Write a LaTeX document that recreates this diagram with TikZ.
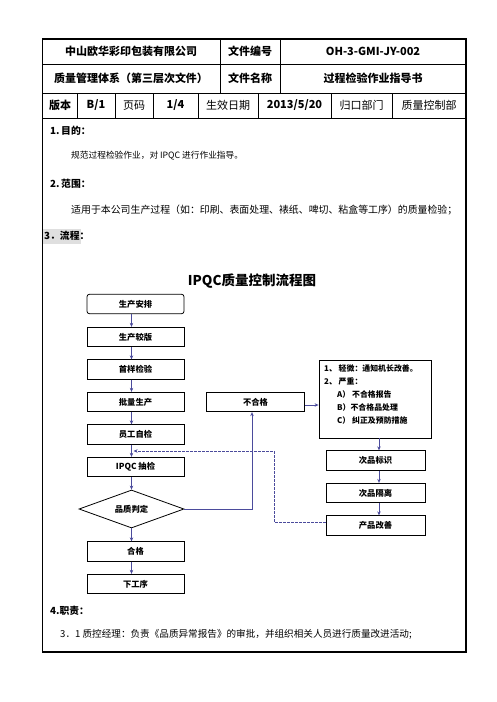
\documentclass[tikz,border=0pt]{standalone}
\usepackage{fontspec}
\setmainfont{Noto Sans CJK SC}
\usetikzlibrary{shapes.geometric,arrows.meta}
\definecolor{arrc}{HTML}{4B4B9C}
\begin{document}
\begin{tikzpicture}[x=1pt,y=-1pt,
  cell/.style={font=\fontsize{11}{13}\selectfont\bfseries,inner sep=0pt},
  cellr/.style={font=\fontsize{11}{13}\selectfont,inner sep=0pt},
  txt/.style={font=\fontsize{9.8}{12}\selectfont,anchor=west,inner sep=0pt},
  head/.style={font=\fontsize{9.8}{12}\selectfont\bfseries,anchor=west,inner sep=0pt},
  fbox/.style={draw,line width=0.8pt,minimum width=97pt,minimum height=19.5pt,inner sep=0pt,font=\fontsize{8.3}{10}\selectfont\bfseries},
  arr/.style={draw=arrc,line width=0.8pt,-{Stealth[length=4pt,width=3.5pt]}},
  darr/.style={draw=arrc,line width=0.8pt,dashed,dash pattern=on 2.5pt off 1.5pt,-{Stealth[length=4pt,width=3.5pt]}}
]
\useasboundingbox (0,0) rectangle (496,702);
% ---------- header table ----------
\draw[line width=0.8pt] (42.5,64) -- (466,64);
\draw[line width=0.8pt] (42.5,93) -- (466,93);
\draw[line width=0.8pt] (42.5,118) -- (466,118);
\draw[line width=0.8pt] (220,39) -- (220,93);
\draw[line width=0.8pt] (280,39) -- (280,93);
\foreach \x in {77,115,153,198,258,331,392} \draw[line width=0.8pt] (\x,93) -- (\x,118);
\draw[line width=1.5pt] (42.5,39) rectangle (466,652);
\node[cell] (t11) at (131,51.5) {中山欧华彩印包装有限公司};
\node[cell] (t12) at (250,51.5) {文件编号};
\node[cell] (t13) at (373,51.5) {OH-3-GMI-JY-002};
\node[cell] (t21) at (131,78.5) {质量管理体系（第三层次文件）};
\node[cell] (t22) at (250,78.5) {文件名称};
\node[cell] (t23) at (373,78.5) {过程检验作业指导书};
\node[cell] (t31) at (60,105.5) {版本};
\node[cell] (t32) at (96,105.5) {B/1};
\node[cellr] (t33) at (134,105.5) {页码};
\node[cell] (t34) at (175.5,105.5) {1/4};
\node[cellr] (t35) at (228,105.5) {生效日期};
\node[cell] (t36) at (294.5,105.5) {2013/5/20};
\node[cellr] (t37) at (361.5,105.5) {归口部门};
\node[cellr] (t38) at (429,105.5) {质量控制部};
% ---------- sections ----------
\node[head] (s1) at (50,131) {1.\,目的：};
\node[txt,font=\fontsize{8.7}{11}\selectfont] (s1t) at (71,156) {规范过程检验作业，对 IPQC 进行作业指导。};
\node[head] (s2) at (50,184) {2.\,范围：};
\node[txt,font=\fontsize{9.9}{12}\selectfont] (s2t) at (71,210) {适用于本公司生产过程（如：印刷、表面处理、裱纸、啤切、粘盒等工序）的质量检验；};
\fill[gray!25] (43.3,228.5) rectangle (81,243.5);
\node[head] (s3) at (44,236) {3．流程：};
\node[font=\fontsize{13.5}{15}\selectfont\bfseries,inner sep=0pt] (title) at (252,281) {IPQC质量控制流程图};
% ---------- flow ----------
\node[fbox,rounded corners=2.5pt] (n1) at (135.5,304) {生产安排};
\node[fbox] (n2) at (135.5,337) {生产较版};
\node[fbox] (n3) at (135.5,369.5) {首样检验};
\node[fbox] (n4) at (135.5,402) {批量生产};
\node[fbox] (n5) at (135.5,434.5) {员工自检};
\node[fbox] (n6) at (135.5,467) {IPQC 抽检};
\node[draw,line width=0.8pt,diamond,aspect=2.76,minimum width=105pt,minimum height=38pt,inner sep=0pt,font=\fontsize{8.3}{10}\selectfont\bfseries] (d) at (131.5,509) {品质判定};
\node[fbox] (n7) at (135.5,551.5) {合格};
\node[fbox] (n8) at (135.5,584) {下工序};
\node[fbox,minimum width=98pt] (bh) at (255.5,402) {不合格};
\node[draw,line width=0.8pt,minimum width=112pt,minimum height=78pt,inner sep=0pt] (note) at (375,399) {};
\node[anchor=north west,inner sep=0pt,font=\fontsize{7.9}{12.8}\selectfont\bfseries,align=left] (notet) at (324,365)
  {1、 轻微：通知机长改善。\\2、 严重：\\\hspace{13pt}A） 不合格报告\\\hspace{13pt}B）不合格品处理\\\hspace{13pt}C） 纠正及预防措施};
\node[fbox,minimum width=99pt] (c1) at (375.5,460.5) {次品标识};
\node[fbox,minimum width=99pt] (c2) at (375.5,493) {次品隔离};
\node[fbox,minimum width=99pt] (c3) at (375.5,525.5) {产品改善};
% ---------- connectors ----------
\foreach \a/\b in {n1/n2,n2/n3,n3/n4,n4/n5,n5/n6,n7/n8}
  \draw[arr] (\a.south -| d) -- (\b.north -| d);
\draw[arr] (n6.south -| d) -- (d.north);
\draw[arr] (d.south) -- (n7.north -| d);
\draw[arr] (d.east) -| ([xshift=-3.5pt]bh.south);
\draw[arr] ([yshift=-3pt]bh.east) -- ([yshift=-3pt]bh.east -| note.west);
\coordinate (nx) at (379,0);
\draw[arr] (note.south -| nx) -- (c1.north -| nx);
\draw[arr] (c1.south -| nx) -- (c2.north -| nx);
\draw[arr] (c2.south -| nx) -- (c3.north -| nx);
\coordinate (dk) at (274,451);
\coordinate (jn) at (133.5,451);
\draw[darr] ([yshift=3.5pt]c3.west) -| (dk) -- (jn);
% ---------- section 4 ----------
\node[head] (s4) at (50,611) {4.职责：};
\node[txt,font=\fontsize{9.6}{12}\selectfont] (s4t) at (60,634) {3．1 质控经理：负责《品质异常报告》的审批，并组织相关人员进行质量改进活动;};
\end{tikzpicture}
\end{document}
